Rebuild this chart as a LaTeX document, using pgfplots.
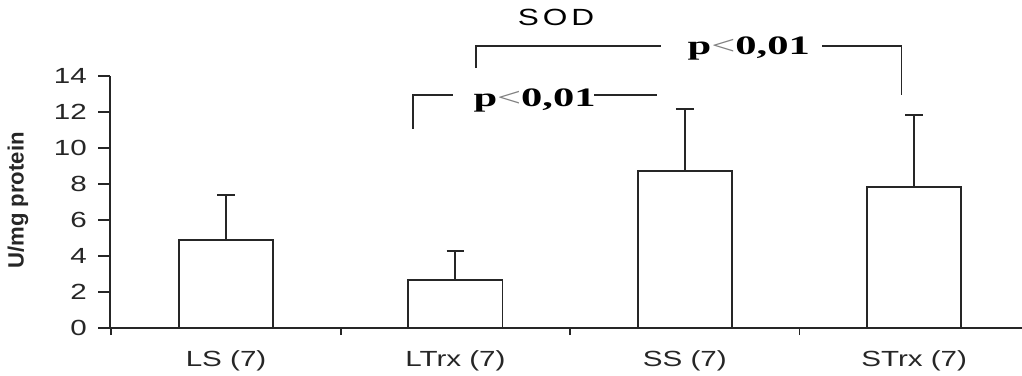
\documentclass[border=0pt]{standalone}
\usepackage{pgfplots}
\pgfplotsset{compat=1.18}
\usepackage{pgfplotstable}
\usepackage{fontspec}
\setmainfont{Liberation Sans}
\newfontfamily\lab[FakeStretch=1.35]{Liberation Sans}
\newfontfamily\pser[FakeStretch=1.6]{Liberation Serif}

\pgfplotstableread{
x y e
0 4.89 2.50
1 2.67 1.61
2 8.72 3.45
3 7.83 4.00
}\sod

\begin{document}
\begin{tikzpicture}
\begin{axis}[
 width=428.64pt, height=118.44pt, scale only axis,
 xmin=-0.506, xmax=3.47, ymin=0, ymax=14,
 clip=false,
 axis x line=bottom, axis y line=left,
 axis line style={-, black!85, line width=0.9pt},
 tick align=outside,
 xtick={0,1,2,3},
 xticklabels={LS (7), LTrx (7), SS (7), STrx (7)},
 major x tick style={draw=none},
 minor xtick={-0.5,0.5,1.5,2.5},
 minor tick length=3.3pt,
 major tick length=5.6pt,
 minor x tick style={black!85, line width=0.9pt},
 ytick={0,2,...,14},
 y tick style={black!85, line width=0.9pt},
 /pgf/number format/assume math mode=true,
 yticklabel style={font=\lab\fontsize{10.3}{12}\selectfont, text=black!85, xshift=-1.8pt},
 xticklabel style={font=\lab\fontsize{10.3}{12}\selectfont, text=black!85, yshift=-1.5pt},
 ylabel={U/mg protein},
 ylabel style={font=\bfseries\fontsize{10.4}{12}\selectfont, text=black!85, at={(axis description cs:-0.1008,0.506)}, anchor=center},
]
\coordinate (bl) at (rel axis cs:0,0);
\addplot[ybar, bar width=0.41, fill=white, draw=black!85, line width=0.9pt,
  error bars/.cd, y dir=plus, y explicit, error mark=|,
  error bar style={line width=0.9pt, black!85},
  error mark options={mark size=4.2pt, line width=0.9pt, black!85}]
  table[x=x, y=y, y error=e]{\sod};
% annotations
\draw[black!85, line width=0.7pt] (axis cs:1.09,14.44) -- (axis cs:1.09,15.67) -- (axis cs:1.897,15.67);
\draw[black!85, line width=0.7pt] (axis cs:2.599,15.67) -- (axis cs:2.944,15.67) -- (axis cs:2.944,12.94);
\draw[black!85, line width=0.7pt] (axis cs:0.8155,11.06) -- (axis cs:0.8155,12.94) -- (axis cs:0.99,12.94);
\draw[black!85, line width=0.7pt] (axis cs:1.605,12.94) -- (axis cs:1.88,12.94);
\node[anchor=base, inner sep=0pt, font=\pser\fontsize{12.5}{14}\selectfont] at (axis cs:2.279,15.17) {\textbf{p}{\color{black!50}<}\textbf{0,01}};
\node[anchor=base, inner sep=0pt, font=\pser\fontsize{12.5}{14}\selectfont] at (axis cs:1.345,12.33) {\textbf{p}{\color{black!50}<}\textbf{0,01}};
\node[anchor=base, inner sep=0pt, font=\lab\fontsize{11}{13}\selectfont, text=black] at (axis cs:1.439,16.83) {S\,O\,D};
\end{axis}
\pgfresetboundingbox
\path[use as bounding box] ([shift={(-51.7pt,-22.56pt)}]bl) rectangle ([shift={(428.64pt,154.16pt)}]bl);
\end{tikzpicture}
\end{document}
